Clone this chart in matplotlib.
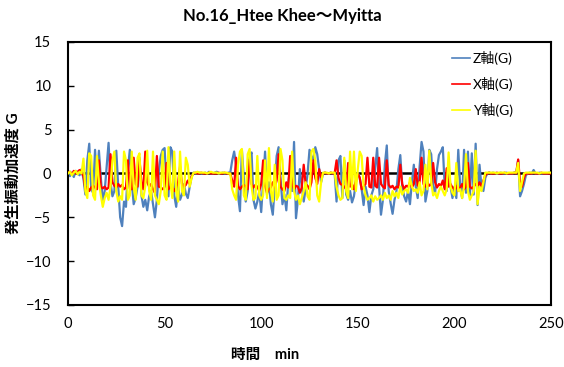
import numpy as np
import matplotlib
matplotlib.use("Agg")
import matplotlib.pyplot as plt

plt.rcParams['font.family'] = ['Lato', 'Noto Sans CJK JP', 'DejaVu Sans']

# sample times, one per minute
time_min = np.arange(0, 251)

# Z axis acceleration (G)
z_axis = [
    0.2, -0.3, 0.1, -0.4, 0.3, 0.0, -0.2, 0.5, -0.6, -2.4,
    1.5, 3.4, -1.8, -2.2, 2.7, -1.2, 2.6, -0.5, -3.1, -2.0,
    0.8, 3.5, -1.0, -2.6, -2.0, 2.6, -1.5, -5.0, -6.0, -3.2,
    -3.8, 0.5, 2.7, -1.0, -3.5, -2.8, -1.5, 1.8, -2.5, -3.8,
    -3.0, -4.2, -2.6, -2.0, -3.5, -5.0, -3.0, 0.2, 2.0, 2.7,
    2.9, -1.5, -2.6, 3.0, 2.5, -2.5, -3.8, -1.5, -3.0, -2.4,
    -1.2, -2.3, -2.8, -1.5, -0.3, 0.1, 0.0, 0.0, 0.1, 0.0,
    0.0, 0.1, 0.0, 0.2, 0.0, 0.0, 0.1, 0.2, 0.0, 0.0,
    0.1, 0.0, 0.0, 0.1, 0.1, 1.5, 2.5, 1.0, -2.5, -4.3,
    2.7, -0.5, -3.2, -2.0, 1.8, 2.4, -3.0, -4.0, -3.2, -2.0,
    -4.4, -1.0, 2.5, -2.4, -1.0, -3.5, -4.7, -1.5, 2.0, 3.0,
    -0.5, -3.5, -2.4, -4.2, -1.0, 0.5, -2.0, 3.6, -5.1, -3.0,
    0.5, -1.5, -3.2, -1.8, 0.0, 2.7, 2.0, 1.5, 3.0, 2.2,
    0.5, -1.0, 0.0, 0.1, 0.0, 0.0, 0.1, 0.0, 0.1, -3.2,
    1.5, 2.0, -2.8, 1.5, -2.4, -3.0, -2.0, -3.3, -2.6, -1.0,
    0.1, -0.5, -1.8, -3.6, -1.5, -2.5, -4.4, -2.5, -1.8, 0.5,
    2.9, -1.5, -4.7, -3.0, 1.0, 3.2, -2.0, -3.4, -4.6, -3.0,
    -2.0, 0.5, 2.1, -1.5, -2.6, -3.2, -2.0, -3.5, -1.0, 1.0,
    -1.5, -2.8, 0.8, 3.6, 2.5, -3.2, -2.0, 2.7, 2.2, -1.5,
    -2.3, 0.5, 2.1, 2.5, 3.0, -1.6, -2.0, 0.5, -1.5, -2.8,
    -1.5, -2.8, 2.7, -1.5, -2.8, 2.7, -2.2, 2.5, -2.6, 2.3,
    -2.4, 3.4, -3.6, 1.0, -1.5, -2.0, -0.5, 0.0, 0.1, 0.0,
    0.1, 0.0, 0.0, 0.0, 0.1, 0.0, 0.0, 0.1, 0.0, 0.0,
    0.0, 0.1, 0.1, 1.5, -2.6, -2.0, -1.2, -0.2, 0.0, 0.1,
    0.0, 0.4, 0.0, 0.0, 0.1, 0.0, 0.0, 0.0, 0.0, 0.1,
    0.0,
]

# X axis acceleration (G)
x_axis = [
    0.1, 0.2, -0.1, 0.3, 0.0, 0.2, 0.4, 0.1, -0.3, -1.8,
    -1.5, -2.0, -1.6, -1.4, -1.6, -1.8, 1.5, -1.5, -1.7, -1.5,
    -1.8, -1.6, 2.2, -1.0, -1.4, -1.6, -1.2, -1.5, -1.3, -1.8,
    -1.6, 1.5, -1.7, -1.8, 1.8, -1.2, -1.5, 1.6, -1.0, -1.8,
    2.5, -1.0, -1.5, -1.2, -1.8, -2.2, 2.0, -1.5, -1.6, -1.8,
    -1.5, 1.2, -1.8, -1.5, -1.5, -2.0, -1.6, -1.0, 0.8, -1.2,
    -1.5, -1.3, -0.8, -1.2, -0.3, 0.0, 0.1, 0.0, 0.0, 0.1,
    0.0, 0.0, 0.0, 0.1, 0.0, 0.0, 0.0, 0.0, 0.1, 0.0,
    0.0, 0.1, 0.0, 0.0, 0.0, -0.8, -1.5, 1.8, -1.4, -1.8,
    -1.5, -1.3, -1.5, -1.8, 1.6, -1.2, -1.6, -1.3, -1.5, -2.0,
    -1.2, 1.5, -1.4, -2.2, -1.8, -1.6, -1.0, -1.6, -0.8, 2.2,
    -1.5, -1.8, -2.0, -1.0, -1.6, 2.0, -1.2, -1.8, -1.4, -1.5,
    -2.2, -1.6, 1.0, -1.2, -1.4, -1.8, -1.0, 1.5, -0.5, -1.2,
    0.5, -0.4, 0.0, 0.1, 0.0, 0.0, 0.1, 0.0, 0.0, 1.5,
    -0.5, -1.2, -1.3, -1.5, -1.8, 1.2, -1.5, -1.2, -1.8, -0.8,
    0.0, -0.5, -1.8, -1.5, -1.2, 1.8, -1.5, -1.6, 1.8, -1.4,
    -1.6, 1.8, -1.2, -1.5, -1.7, 1.5, -1.3, -1.6, -1.4, -1.8,
    -1.5, -1.6, 1.0, -1.2, -1.8, -1.4, -1.5, -1.0, -1.6, -1.2,
    0.5, -1.4, -1.0, 1.8, -1.2, -1.5, -1.0, -1.4, -1.2, 1.2,
    -1.0, -1.6, -1.2, -1.4, -0.8, -1.8, 0.6, -1.5, -1.2, -1.6,
    -1.8, -1.4, -2.0, -1.6, -1.2, -1.8, -1.5, 1.2, -1.5, -1.7,
    -1.5, -1.2, -1.4, -1.0, -1.6, -0.8, -0.2, 0.0, 0.1, 0.0,
    0.0, 0.0, 0.1, 0.0, 0.0, 0.0, 0.1, 0.0, 0.0, 0.0,
    0.0, 0.1, 0.0, 1.6, -1.0, -1.5, -0.5, 0.0, 0.0, 0.0,
    0.0, 0.1, 0.0, 0.0, 0.0, 0.1, 0.0, 0.0, 0.0, 0.0,
    0.0,
]

# Y axis acceleration (G)
y_axis = [
    0.0, 0.2, -0.2, 0.1, 0.3, -0.1, 0.2, 0.0, 1.7, -2.0,
    -2.8, 2.3, 2.0, -2.5, -3.0, 2.0, -1.0, -2.5, -3.8, -2.8,
    -2.2, -3.0, -1.5, 1.5, 2.5, -2.0, -3.2, -2.6, -3.0, 2.5,
    1.5, -3.0, -2.5, 2.5, -1.5, -3.0, 1.8, 2.3, -2.5, -2.8,
    -1.5, 2.6, -2.0, -3.0, 2.5, -2.5, -3.0, -3.5, -2.0, 2.5,
    -2.5, -3.0, 3.0, -1.0, -2.8, 2.5, -2.0, -3.2, 2.5, -2.0,
    -2.5, 1.8, 1.0, -1.5, -0.5, 0.1, 0.1, 0.2, 0.1, 0.1,
    0.1, 0.1, 0.0, 0.1, 0.2, 0.1, 0.1, 0.1, 0.0, 0.1,
    0.1, 0.1, 0.1, 0.0, 0.0, -1.8, -2.5, -3.0, 1.0, 2.5,
    2.8, -2.5, -3.0, 2.2, 2.8, -1.5, -3.0, -2.8, 2.0, -2.5,
    -3.0, -2.5, 1.5, -2.8, 2.9, -2.0, -3.2, 1.0, -3.0, -2.5,
    2.8, 1.5, -2.8, -3.0, -2.5, -2.8, 2.5, -2.0, -3.0, -2.5,
    -3.5, -2.8, -2.0, -1.0, -2.6, -3.0, 2.5, 2.8, 1.5, -2.5,
    -3.2, -1.0, 0.1, 0.1, 0.1, 0.0, 0.1, 0.1, 0.1, -1.5,
    -2.5, -3.0, -2.8, 1.8, -2.0, -2.8, 2.5, -1.8, 2.5, -2.0,
    0.5, 2.5, 2.0, -1.5, -2.5, -3.0, -2.8, -2.5, -3.2, -2.6,
    -3.0, -2.8, -2.5, -3.0, -2.2, -2.8, -2.5, -3.0, -2.0, -2.6,
    -2.2, -2.8, -1.5, -2.4, -2.0, -1.8, -2.2, -0.5, -1.5, -2.0,
    -1.8, -2.2, -1.0, -2.5, -2.0, 1.0, -1.8, 2.6, -1.0, -2.5,
    -2.2, -2.8, -2.0, -1.5, -2.0, -2.5, -1.8, 2.4, -1.5, -2.2,
    -2.5, 1.2, -2.0, -1.8, -2.8, -1.5, 2.2, -2.0, -3.0, -2.5,
    -2.0, 2.6, -3.5, -1.5, -2.0, -1.0, 0.1, 0.1, 0.1, 0.1,
    0.1, 0.1, 0.0, 0.1, 0.1, 0.1, 0.1, 0.0, 0.1, 0.1,
    0.1, 0.1, 0.1, 1.2, -2.0, -1.0, 0.0, 0.1, 0.1, 0.1,
    0.1, 0.1, 0.1, 0.1, 0.0, 0.1, 0.1, 0.1, 0.1, 0.1,
    0.1,
]

fig = plt.figure(figsize=(5.64, 3.67), dpi=100)
ax = fig.add_axes([68 / 564, 62 / 367, 483 / 564, 263 / 367])

# zero reference line
ax.plot([0, 250], [0, 0], color='black', lw=1.8, zorder=1)

ax.plot(time_min, z_axis, color='#4F81BD', lw=1.6, label='Z軸(G)', zorder=2)
ax.plot(time_min, x_axis, color='#FF0000', lw=1.6, label='X軸(G)', zorder=3)
ax.plot(time_min, y_axis, color='#FFFF00', lw=1.6, label='Y軸(G)', zorder=4)

ax.set_xlim(0, 250)
ax.set_ylim(-15, 15)
ax.set_xticks([0, 50, 100, 150, 200, 250])
ax.set_yticks([-15, -10, -5, 0, 5, 10, 15])
ax.tick_params(axis='y', direction='in', length=4, width=1, pad=12, labelsize=10.5)
ax.tick_params(axis='x', length=0, pad=9, labelsize=10.5)
for s in ax.spines.values():
    s.set_linewidth(1.5)
    s.set_color('black')

ax.set_xlabel('時間　min', fontsize=10.5, fontweight='bold')
ax.xaxis.set_label_coords(0.408, -0.165)
ax.set_ylabel('発生振動加速度 G', fontsize=11, fontweight='bold', labelpad=4)
fig.text(0.5, 1 - 16 / 367, 'No.16_Htee Khee～Myitta', ha='center', va='center',
         fontsize=12, fontweight='bold')

leg = ax.legend(loc='upper left', bbox_to_anchor=(0.77, 1.012), frameon=False,
                fontsize=10, handlelength=1.3, handletextpad=0.15, labelspacing=0.85)
for ln in leg.get_lines():
    ln.set_linewidth(1.2)

fig.savefig('out.png', dpi=100)
